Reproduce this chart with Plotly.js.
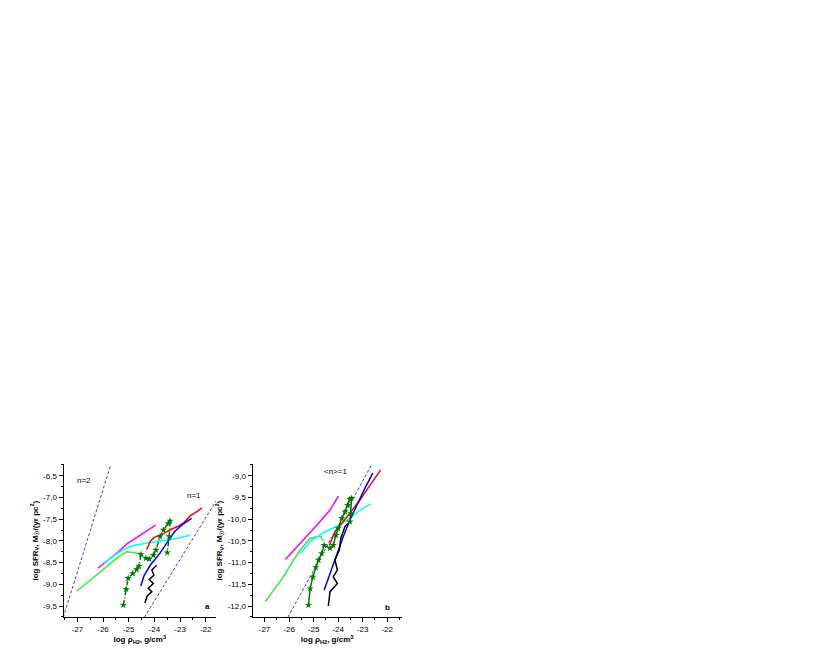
<!DOCTYPE html>
<html>
<head>
<meta charset="utf-8">
<script src="https://cdn.plot.ly/plotly-3.0.1.min.js"></script>
<style>html,body{margin:0;padding:0;background:#fff}#chart{width:817px;height:654px}</style>
</head>
<body>
<div id="chart"></div>
<script>
// ---------- Panel a data ----------
const aMagentaX = [-26.2, -25.8, -25.4, -25.07, -24.7, -24.3, -23.95];
const aMagentaY = [-8.63, -8.45, -8.25, -8.07, -7.93, -7.78, -7.64];
const aGreenX = [-27.02, -26.6, -26.2, -25.8, -25.4, -25.08, -24.85, -24.56];
const aGreenY = [-9.16, -8.95, -8.75, -8.55, -8.37, -8.25, -8.27, -8.29];
const aCyanX = [-25.95, -25.6, -25.2, -24.9, -24.4, -23.8, -23.2, -22.6];
const aCyanY = [-8.52, -8.35, -8.2, -8.12, -8.06, -8.0, -7.95, -7.87];
const aRedX = [-24.3, -24.15, -24.0, -23.7, -23.4, -23.1, -22.85, -22.6, -22.4, -22.15];
const aRedY = [-8.2, -8.0, -7.92, -7.85, -7.75, -7.67, -7.58, -7.42, -7.35, -7.24];
const aBlueX = [-24.53, -24.4, -24.15, -24.0, -23.8, -23.6, -23.4, -23.2, -22.9, -22.55];
const aBlueY = [-9.04, -8.8, -8.55, -8.45, -8.3, -8.12, -7.95, -7.78, -7.62, -7.48];
const aBlackX = [-24.37, -24.28, -24.1, -24.24, -24.04, -24.2, -24.02, -24.1, -23.91];
const aBlackY = [-9.43, -9.27, -9.17, -9.09, -8.98, -8.89, -8.79, -8.67, -8.56];
const aStarX = [-25.21, -25.1, -25.02, -24.84, -24.69, -24.6, -24.52, -24.33, -24.2, -24.04, -23.94, -23.78, -23.65, -23.46, -23.39, -23.42, -23.5];
const aStarY = [-9.48, -9.11, -8.86, -8.75, -8.66, -8.58, -8.31, -8.4, -8.42, -8.33, -8.21, -7.9, -7.75, -7.6, -7.54, -7.9, -8.27];
const aN2X = [-27.55, -25.7];
const aN2Y = [-9.76, -6.25];
const aN1X = [-24.39, -21.45];
const aN1Y = [-9.76, -6.94];

// ---------- Panel b data ----------
const bMagentaX = [-26.15, -25.41, -24.87, -24.33, -23.99];
const bMagentaY = [-10.93, -10.48, -10.14, -9.79, -9.47];
const bGreenX = [-26.97, -26.6, -26.23, -25.9, -25.55, -25.14, -24.74, -24.6];
const bGreenY = [-11.9, -11.6, -11.33, -11.02, -10.71, -10.44, -10.39, -10.5];
const bCyanX = [-25.55, -25.07, -24.53, -24.06, -23.52, -23.11, -22.67];
const bCyanY = [-10.79, -10.48, -10.29, -10.17, -9.98, -9.79, -9.65];
const bRedX = [-24.36, -24.13, -23.85, -23.52, -23.11, -22.84, -22.5, -22.27];
const bRedY = [-10.6, -10.29, -10.1, -9.87, -9.56, -9.33, -9.06, -8.87];
const bBlueX = [-24.57, -24.33, -24.06, -23.79, -23.52, -23.18, -22.91, -22.59];
const bBlueY = [-11.63, -11.25, -10.79, -10.4, -10.02, -9.6, -9.29, -8.94];
const bBlackX = [-24.4, -24.33, -24.03, -24.2, -24.03, -24.13, -23.95, -23.89, -23.72, -23.59];
const bBlackY = [-12.0, -11.67, -11.48, -11.33, -11.17, -10.94, -10.71, -10.44, -10.17, -10.1];
const bStarX = [-25.21, -25.14, -25.03, -24.91, -24.8, -24.67, -24.57, -24.33, -24.2, -24.09, -24.0, -23.85, -23.72, -23.61, -23.52, -23.45, -23.48, -23.52];
const bStarY = [-11.98, -11.6, -11.33, -11.11, -10.94, -10.79, -10.6, -10.67, -10.6, -10.37, -10.21, -9.98, -9.83, -9.68, -9.54, -9.52, -9.87, -10.06];
const bN1X = [-26.05, -22.63];
const bN1Y = [-12.26, -8.74];

// ---------- Tick labels ----------
const aYTicks = [-6.5, -7.0, -7.5, -8.0, -8.5, -9.0, -9.5];
const aYLabels = ["-6,5", "-7,0", "-7,5", "-8,0", "-8,5", "-9,0", "-9,5"];
const bYTicks = [-9.0, -9.5, -10.0, -10.5, -11.0, -11.5, -12.0];
const bYLabels = ["-9,0", "-9,5", "-10,0", "-10,5", "-11,0", "-11,5", "-12,0"];
const xTicks = [-27, -26, -25, -24, -23, -22];
const xLabels = ["-27", "-26", "-25", "-24", "-23", "-22"];

const W = 817, H = 654;
const F = "Liberation Sans, Arial, sans-serif";

function line(x, y, color, xa, ya, extra) {
  return Object.assign({x: x, y: y, xaxis: xa, yaxis: ya, mode: 'lines', type: 'scatter',
    line: {color: color, width: 1.5}, hoverinfo: 'skip', showlegend: false}, extra || {});
}
function star(x, y, xa, ya, dash) {
  return {x: x, y: y, xaxis: xa, yaxis: ya, mode: 'lines+markers', type: 'scatter',
    line: {color: '#007a00', width: 1.5, dash: dash},
    marker: {symbol: 'star', size: 5.5, color: '#007a00'}, showlegend: false, hoverinfo: 'skip'};
}
function dashed(x, y, xa, ya) {
  return line(x, y, '#3a3aff', xa, ya, {line: {color: '#3a3aff', width: 1, dash: '3px,2px'}});
}

const data = [
  dashed(aN2X, aN2Y, 'x', 'y'),
  dashed(aN1X, aN1Y, 'x', 'y'),
  line(aMagentaX, aMagentaY, '#ff00ff', 'x', 'y'),
  line(aGreenX, aGreenY, '#33ee33', 'x', 'y'),
  line(aCyanX, aCyanY, '#00ffff', 'x', 'y'),
  line(aRedX, aRedY, '#ff0000', 'x', 'y'),
  line(aBlueX, aBlueY, '#0000ff', 'x', 'y'),
  line(aBlackX, aBlackY, '#000000', 'x', 'y'),
  star(aStarX, aStarY, 'x', 'y', '5px,2px,1px,2px'),
  dashed(bN1X, bN1Y, 'x2', 'y2'),
  line(bMagentaX, bMagentaY, '#ff00ff', 'x2', 'y2'),
  line(bGreenX, bGreenY, '#33ee33', 'x2', 'y2'),
  line(bCyanX, bCyanY, '#00ffff', 'x2', 'y2'),
  line(bRedX, bRedY, '#ff0000', 'x2', 'y2'),
  line(bBlueX, bBlueY, '#0000ff', 'x2', 'y2'),
  line(bBlackX, bBlackY, '#000000', 'x2', 'y2'),
  star(bStarX, bStarY, 'x2', 'y2', 'solid')
];

const tickFont = {family: F, size: 8, color: '#000'};
const titleFont = {family: F, size: 8, color: '#000', weight: 'bold'};
function xax(domain, range, anchor) {
  return {domain: domain, range: range, anchor: anchor, showgrid: false, zeroline: false,
    showline: true, linecolor: '#000', linewidth: 1, ticks: 'outside', ticklen: 4, tickwidth: 1,
    tickcolor: '#000', tickmode: 'array', tickvals: xTicks, ticktext: xLabels, tickfont: tickFont,
    minor: {ticks: 'outside', ticklen: 2, dtick: 0.5, tick0: -27, tickcolor: '#000', showgrid: false},
    title: {text: '<b>log ρ<sub>H2</sub>, g/cm<sup>3</sup></b>', font: titleFont, standoff: 0}};
}
function yax(domain, range, anchor, vals, labels) {
  return {domain: domain, range: range, anchor: anchor, showgrid: false, zeroline: false,
    showline: true, linecolor: '#000', linewidth: 1, ticks: 'outside', ticklen: 4, tickwidth: 1,
    tickcolor: '#000', tickmode: 'array', tickvals: vals, ticktext: labels, tickfont: tickFont,
    minor: {ticks: 'outside', ticklen: 2, dtick: 0.25, tick0: -12, tickcolor: '#000', showgrid: false},
    title: {text: '<b>log SFR<sub>V</sub>, M<sub>☉</sub>/(yr pc<sup>2</sup>)</b>', font: titleFont, standoff: 3}};
}

const yDom = [(H - 617.3) / H, (H - 464) / H];
const layout = {
  width: W, height: H, paper_bgcolor: '#fff', plot_bgcolor: 'rgba(0,0,0,0)',
  margin: {l: 0, r: 0, t: 0, b: 0}, showlegend: false,
  font: {family: F, size: 8, color: '#000'},
  xaxis: xax([63.5 / W, 216 / W], [-27.54, -21.6], 'y'),
  yaxis: yax(yDom, [-9.76, -6.23], 'x', aYTicks, aYLabels),
  xaxis2: xax([252.5 / W, 401.7 / W], [-27.49, -21.41], 'y2'),
  yaxis2: yax(yDom, [-12.26, -8.73], 'x2', bYTicks, bYLabels),
  annotations: [
    {xref: 'x', yref: 'y', x: -26.75, y: -6.62, text: 'n=2', showarrow: false, font: {family: F, size: 8}},
    {xref: 'x', yref: 'y', x: -22.45, y: -6.95, text: 'n=1', showarrow: false, font: {family: F, size: 8}},
    {xref: 'x', yref: 'y', x: -21.95, y: -9.52, text: '<b>a</b>', showarrow: false, font: {family: F, size: 8}},
    {xref: 'x2', yref: 'y2', x: -24.1, y: -8.9, text: '&lt;n&gt;=1', showarrow: false, font: {family: F, size: 8}},
    {xref: 'x2', yref: 'y2', x: -22.0, y: -12.04, text: '<b>b</b>', showarrow: false, font: {family: F, size: 8}}
  ]
};

Plotly.newPlot('chart', data, layout, {displayModeBar: false});
</script>
</body>
</html>
